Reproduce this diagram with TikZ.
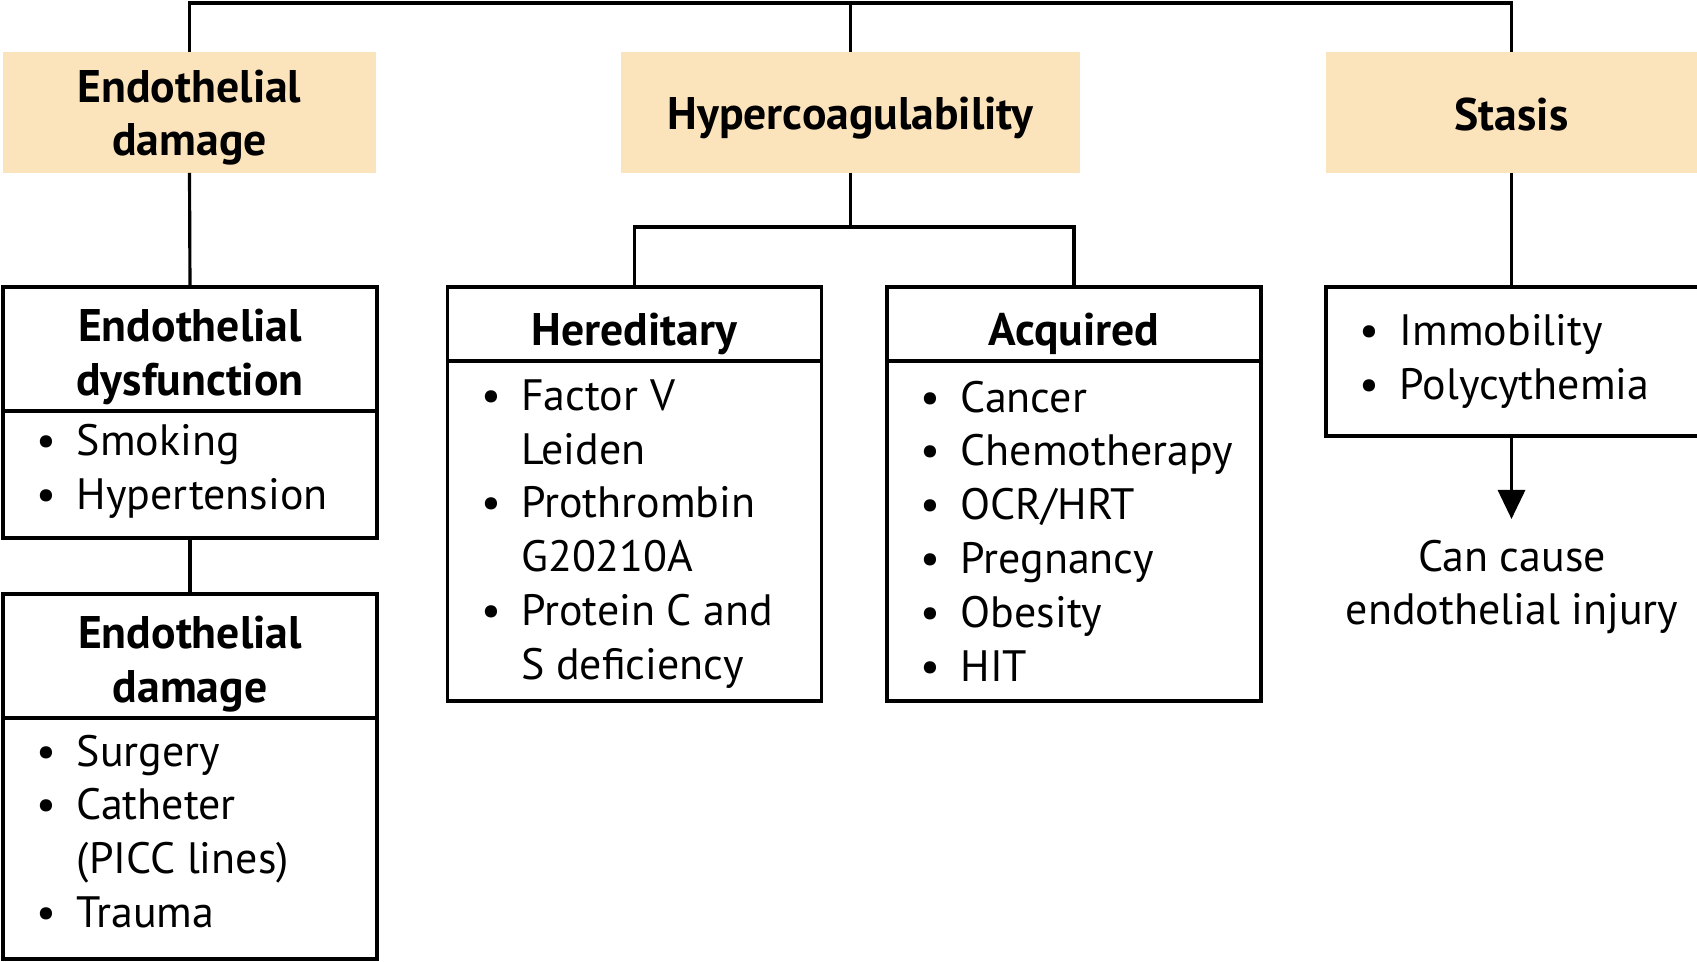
\documentclass[tikz,border=0pt]{standalone}
\usepackage{fontspec}
\setmainfont{PT Sans}
\usetikzlibrary{arrows.meta}
\definecolor{peach}{RGB}{251,228,188}
\tikzset{
  causehead/.style={fill=peach, minimum height=1.21cm, inner sep=0pt, outer sep=0pt},
  headcell/.style={draw, line width=0.9pt, minimum width=3.74cm, inner sep=0pt, outer sep=0pt},
  listcell/.style={draw, line width=0.9pt, minimum width=3.74cm, inner sep=0pt, outer sep=0pt, anchor=north},
  title/.style={inner sep=0pt, align=center, font=\bfseries\fontsize{13}{15.3}\selectfont},
  itemtext/.style={anchor=west, align=left, inner sep=0pt, font=\fontsize{12.5}{15.3}\selectfont},
  link/.style={line width=0.9pt}
}
\newcommand{\blt}{\makebox[0.40cm][l]{\textbullet}}
\newcommand{\cnt}{\hspace*{0.40cm}}

\begin{document}
\begin{tikzpicture}
  \useasboundingbox (0,0) rectangle (16.97,-9.62);

  \node[causehead, minimum width=3.73cm] (endo) at (1.895,-1.125) {};
  \node[causehead, minimum width=4.59cm] (hyper) at (8.505,-1.125) {};
  \node[causehead, minimum width=3.71cm] (stasis) at (15.115,-1.125) {};
  \node[title] (endotitle) at ([yshift=-0.05cm]endo.center) {Endothelial\\damage};
  \node[title] (hypertitle) at ([yshift=-0.06cm]hyper.center) {Hypercoagulability};
  \node[title] (stasistitle) at ([yshift=-0.02cm]stasis.center) {Stasis};

  \node[headcell, minimum height=1.24cm] (dysfhead) at (1.90,-3.49) {};
  \node[listcell, minimum height=1.27cm] (dysflist) at (dysfhead.south) {};
  \node[headcell, minimum height=1.24cm] (damhead) at (1.90,-6.56) {};
  \node[listcell, minimum height=2.41cm] (damlist) at (damhead.south) {};

  \node[headcell, minimum height=0.74cm] (herhead) at (6.345,-3.24) {};
  \node[listcell, minimum height=3.40cm] (herlist) at (herhead.south) {};
  \node[headcell, minimum height=0.74cm] (acqhead) at (10.74,-3.24) {};
  \node[listcell, minimum height=3.40cm] (acqlist) at (acqhead.south) {};

  \node[listcell, anchor=center, minimum width=3.84cm, minimum height=1.49cm] (staslist) at (15.18,-3.615) {};

  \node[title] (dysftitle) at ([yshift=-0.08cm]dysfhead.center) {Endothelial\\dysfunction};
  \node[title] (damtitle) at ([yshift=-0.08cm]damhead.center) {Endothelial\\damage};
  \node[title] (hertitle) at ([yshift=-0.1cm]herhead.center) {Hereditary};
  \node[title] (acqtitle) at ([yshift=-0.1cm]acqhead.center) {Acquired};

  \node[itemtext] (dysfitems) at ([xshift=0.33cm, yshift=0.03cm]dysflist.west) {\blt Smoking\\\blt Hypertension};
  \node[itemtext] (damitems) at ([xshift=0.33cm, yshift=0.07cm]damlist.west) {\blt Surgery\\\blt Catheter\\\cnt (PICC lines)\\\blt Trauma};
  \node[itemtext] (heritems) at ([xshift=0.33cm, yshift=-0.03cm]herlist.west) {\blt Factor V\\\cnt Leiden\\\blt Prothrombin\\\cnt G20210A\\\blt Protein C and\\\cnt S deficiency};
  \node[itemtext] (acqitems) at ([xshift=0.33cm]acqlist.west) {\blt Cancer\\\blt Chemotherapy\\\blt OCR/HRT\\\blt Pregnancy\\\blt Obesity\\\blt HIT};
  \node[itemtext] (stasitems) at ([xshift=0.33cm]staslist.west) {\blt Immobility\\\blt Polycythemia};

  \node[inner sep=0pt, align=center, font=\fontsize{12.5}{15.3}\selectfont] (injury) at (15.12,-5.87) {Can cause\\endothelial injury};

  \coordinate (top) at (8.505,-0.03);
  \coordinate (split) at (8.505,-2.27);

  \draw[link] (endo.north) |- (top) -| (stasis.north);
  \draw[link] (hyper.north) -- (top);
  \draw[link] (endo.south) -- (dysfhead.north);
  \draw[link] (dysflist.south) -- (damhead.north);
  \draw[link] (hyper.south) -- (split);
  \draw[link] (herhead.north) |- (split) -| (acqhead.north);
  \draw[link] (stasis.south) -- (stasis.south |- staslist.north);
  \draw[link, -{Triangle[width=0.27cm, length=0.29cm]}] (stasis.south |- staslist.south) -- (stasis.south |- 0,-5.19);
\end{tikzpicture}
\end{document}
